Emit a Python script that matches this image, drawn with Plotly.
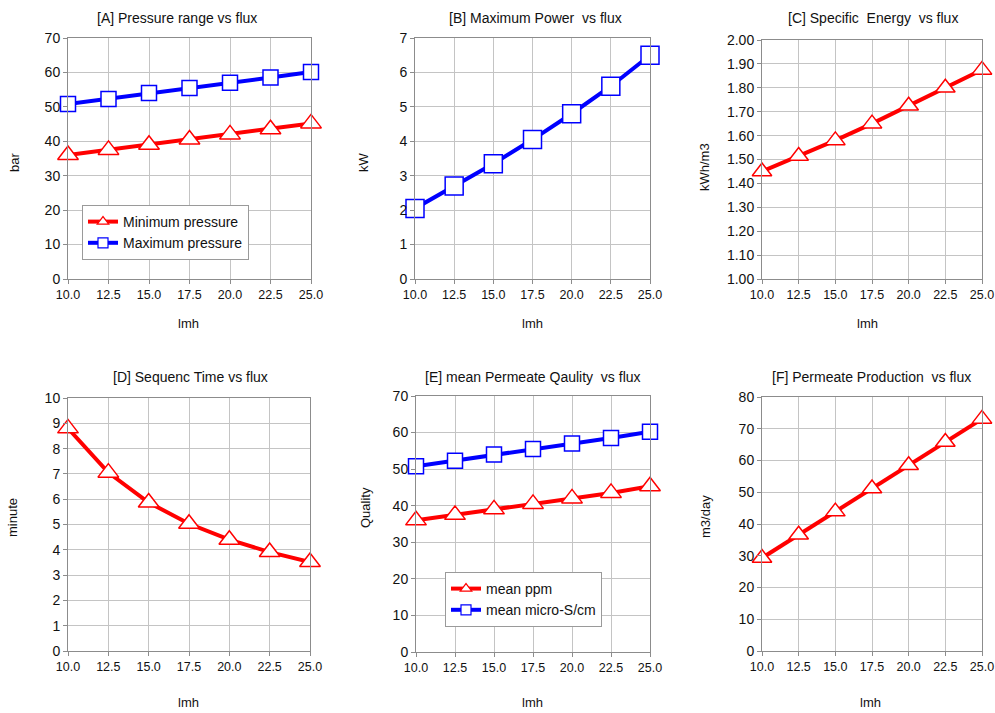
import plotly.graph_objects as go
from plotly.subplots import make_subplots

W, H = 995, 713

flux = [10.0, 12.5, 15.0, 17.5, 20.0, 22.5, 25.0]
min_pressure = [36.0, 37.5, 39.0, 40.5, 42.0, 43.5, 45.2]
max_pressure = [50.8, 52.3, 54.0, 55.5, 57.0, 58.5, 60.1]
max_power = [2.05, 2.7, 3.35, 4.05, 4.8, 5.6, 6.5]
specific_energy = [1.45, 1.515, 1.58, 1.65, 1.725, 1.80, 1.875]
sequence_time = [8.8, 7.05, 5.87, 5.03, 4.4, 3.91, 3.52]
mean_ppm = [36.0, 37.5, 39.0, 40.5, 42.0, 43.5, 45.3]
mean_micro = [50.8, 52.3, 54.0, 55.5, 57.0, 58.5, 60.2]
permeate_prod = [29.3, 36.6, 43.9, 51.2, 58.5, 65.8, 73.1]

titles = ["[A] Pressure range vs flux", "[B] Maximum Power  vs flux",
          "[C] Specific  Energy  vs flux", "[D] Sequenc Time vs flux",
          "[E] mean Permeate Qaulity  vs flux", "[F] Permeate Production  vs flux"]
ytitles = ["bar", "kW", "kWh/m3", "minute", "Quality", "m3/day"]
xtitle = "lmh"

RED = "#FF0000"
BLUE = "#0000FF"
FONT = "Liberation Sans, Arial, sans-serif"
TXT = "#111111"

# pixel boxes of plot areas: (left, right, top, bottom)
boxes = [(68, 311, 38, 279), (415, 650, 38, 279), (762, 982, 40, 279),
         (68, 310, 398, 651), (416, 650, 396, 652), (762, 982, 397, 651)]
yranges = [(0, 70, 10, None), (0, 7, 1, None), (1.0, 2.0, 0.1, ".2f"),
           (0, 10, 1, None), (0, 70, 10, None), (0, 80, 10, None)]
title_pos = [(177, 18), (535, 18), (873, 18), (190, 377), (533, 377), (871, 377)]
xt_pos = [(188, 323), (532, 323), (867, 323), (188, 702), (532, 702), (870, 702)]
yt_pos = [(15, 163), (363, 162), (705, 167), (12, 518), (365, 508), (705, 517)]

fig = make_subplots(rows=2, cols=3)


def px(x):
    return x / W


def py(y):
    return 1 - y / H


def style(symbol, color, size):
    return dict(mode="lines+markers", showlegend=False,
                line=dict(color=color, width=4),
                marker=dict(symbol=symbol, size=size, color="white",
                            line=dict(color=color, width=1.5)),
                cliponaxis=False)


def legend_entry(symbol, color, name, legend):
    return go.Scatter(x=[None], y=[None], name=name, legend=legend, showlegend=True,
                      mode="lines+markers", line=dict(color=color, width=4),
                      marker=dict(symbol=symbol, size=10, color="white",
                                  line=dict(color=color, width=1.2)))


fig.add_trace(go.Scatter(x=flux, y=min_pressure, name="Minimum pressure", **style("triangle-up", RED, 18)), row=1, col=1)
fig.add_trace(go.Scatter(x=flux, y=max_pressure, name="Maximum pressure", **style("square", BLUE, 15)), row=1, col=1)
fig.add_trace(go.Scatter(x=flux, y=max_power, name="Maximum Power", **style("square", BLUE, 18)), row=1, col=2)
fig.add_trace(go.Scatter(x=flux, y=specific_energy, name="Specific Energy", **style("triangle-up", RED, 17)), row=1, col=3)
fig.add_trace(go.Scatter(x=flux, y=sequence_time, name="Sequence Time", **style("triangle-up", RED, 18)), row=2, col=1)
fig.add_trace(go.Scatter(x=flux, y=mean_ppm, name="mean ppm", **style("triangle-up", RED, 18)), row=2, col=2)
fig.add_trace(go.Scatter(x=flux, y=mean_micro, name="mean micro-S/cm", **style("square", BLUE, 15)), row=2, col=2)
fig.add_trace(go.Scatter(x=flux, y=permeate_prod, name="Permeate Production", **style("triangle-up", RED, 17)), row=2, col=3)

fig.add_trace(legend_entry("triangle-up", RED, "Minimum pressure", "legend"), row=1, col=1)
fig.add_trace(legend_entry("square", BLUE, "Maximum pressure", "legend"), row=1, col=1)
fig.add_trace(legend_entry("triangle-up", RED, "mean ppm", "legend2"), row=2, col=2)
fig.add_trace(legend_entry("square", BLUE, "mean micro-S/cm", "legend2"), row=2, col=2)

annotations = []
for i in range(6):
    l, r, t, b = boxes[i]
    xa = "xaxis" if i == 0 else f"xaxis{i+1}"
    ya = "yaxis" if i == 0 else f"yaxis{i+1}"
    y0, y1, dy, fmt = yranges[i]
    fig.layout[xa].update(domain=[px(l), px(r)], range=[10, 25], tick0=10, dtick=2.5,
                          tickformat=".1f", showgrid=True, gridcolor="#c4c4c4", gridwidth=1,
                          showline=True, linecolor="#8c8c8c", linewidth=1, mirror=True,
                          ticks="outside", ticklen=4, tickcolor="#8c8c8c", zeroline=False,
                          automargin=False,
                          tickfont=dict(family=FONT, size=12.5, color=TXT))
    yd = dict(domain=[py(b), py(t)], range=[y0, y1], tick0=y0, dtick=dy,
              showgrid=True, gridcolor="#c4c4c4", gridwidth=1,
              showline=True, linecolor="#8c8c8c", linewidth=1, mirror=True,
              ticks="outside", ticklen=4, tickcolor="#8c8c8c", zeroline=False,
              automargin=False,
              tickfont=dict(family=FONT, size=14, color=TXT))
    if fmt:
        yd["tickformat"] = fmt
    fig.layout[ya].update(**yd)
    annotations.append(dict(text=titles[i], x=px(title_pos[i][0]), y=py(title_pos[i][1]),
                            xref="paper", yref="paper", showarrow=False,
                            xanchor="center", yanchor="middle",
                            font=dict(family=FONT, size=14, color=TXT)))
    annotations.append(dict(text=xtitle, x=px(xt_pos[i][0]), y=py(xt_pos[i][1]),
                            xref="paper", yref="paper", showarrow=False,
                            xanchor="center", yanchor="middle",
                            font=dict(family=FONT, size=13, color=TXT)))
    annotations.append(dict(text=ytitles[i], x=px(yt_pos[i][0]), y=py(yt_pos[i][1]),
                            xref="paper", yref="paper", showarrow=False, textangle=-90,
                            xanchor="center", yanchor="middle",
                            font=dict(family=FONT, size=13, color=TXT)))

leg_common = dict(bgcolor="white", bordercolor="#9a9a9a", borderwidth=1,
                  font=dict(family=FONT, size=14, color=TXT),
                  xanchor="left", yanchor="top", tracegroupgap=0, itemwidth=30)
fig.update_layout(
    template="none",
    width=W, height=H, margin=dict(l=0, r=0, t=0, b=0, autoexpand=False),
    paper_bgcolor="white", plot_bgcolor="white",
    annotations=annotations,
    legend=dict(x=px(82), y=py(205), **leg_common),
    legend2=dict(x=px(445), y=py(572), **leg_common),
)

fig.write_html("out.html", config={"displayModeBar": False},
               post_script="document.body.style.margin='0';document.body.style.padding='0';")
